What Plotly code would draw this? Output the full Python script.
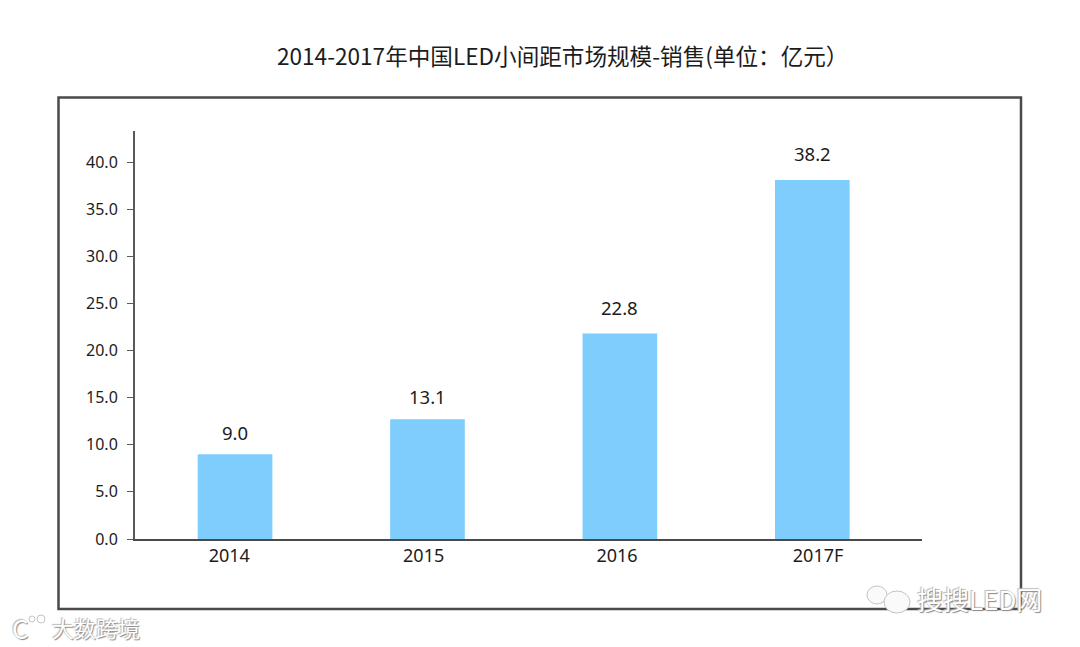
import plotly.graph_objects as go

categories = ["2014", "2015", "2016", "2017F"]
bar_positions = [0, 1, 2, 3]
category_label_offsets = [-0.03, -0.02, -0.015, 0.03]
bar_heights = [9.0, 12.7, 21.8, 38.1]
bar_labels = ["9.0", "13.1", "22.8", "38.2"]
bar_label_shifts = [7, 8, 12, 12]
y_ticks = [0, 5, 10, 15, 20, 25, 30, 35, 40]
y_tick_labels = ["0.0", "5.0", "10.0", "15.0", "20.0", "25.0", "30.0", "35.0", "40.0"]
title_text = "2014-2017年中国LED小间距市场规模-销售(单位：亿元）"

W, H = 1080, 647
L, R, T, B = 135, 922, 131, 539
FONT = "Noto Sans, Noto Sans CJK SC, sans-serif"
TXT = "#1c1c1c"

def px(x):
    return (x - L) / (R - L)

def py(y):
    return (B - y) / (B - T)

fig = go.Figure()
fig.add_bar(
    x=bar_positions, y=bar_heights, width=0.388,
    marker=dict(color="#7fcdfd", line_width=0), hoverinfo="skip",
)

shapes = [dict(type="rect", xref="paper", yref="paper", layer="below",
               x0=px(58.5), x1=px(1021), y0=py(609), y1=py(97.5),
               line=dict(color="#4a4a4a", width=2.5), fillcolor="white")]

def bubble(cx, cy, rx, ry, fill="#fafafa"):
    shapes.append(dict(type="circle", xref="paper", yref="paper", layer="above",
                       x0=px(cx - rx), x1=px(cx + rx), y0=py(cy + ry), y1=py(cy - ry),
                       line=dict(color="#c4c4c4", width=1), fillcolor=fill))

# watermark glyphs
bubble(877, 595, 10, 9)
bubble(897, 602, 13, 11)
bubble(32, 619, 3, 3, "white")
bubble(41, 619, 4, 4, "white")

WM = dict(color="#ffffff", size=26, family="Noto Sans CJK SC, sans-serif",
          shadow="1px 1px 1px #888, -1px -1px 1px #bbb")
annotations = [
    dict(text=title_text, xref="paper", yref="paper", x=px(562), y=py(55), showarrow=False,
         xanchor="center", yanchor="middle",
         font=dict(family="Noto Sans CJK SC, sans-serif", size=22.6, color=TXT)),
    dict(text="搜搜LED网", xref="paper", yref="paper", x=px(979), y=py(598), showarrow=False,
         xanchor="center", yanchor="middle", font=WM),
    dict(text="大数跨境", xref="paper", yref="paper", x=px(96), y=py(627), showarrow=False,
         xanchor="center", yanchor="middle", font=dict(WM, size=22)),
    dict(text="C", xref="paper", yref="paper", x=px(20), y=py(627), showarrow=False,
         xanchor="center", yanchor="middle", font=dict(WM, size=26)),
]
for xpos, height, label, shift in zip(bar_positions, bar_heights, bar_labels, bar_label_shifts):
    annotations.append(dict(
        text=label, x=xpos, y=height, xref="x", yref="y", showarrow=False,
        xanchor="center", yanchor="bottom", yshift=shift,
        font=dict(family=FONT, size=18.5, color=TXT),
    ))

fig.update_layout(
    width=W, height=H, autosize=False,
    margin=dict(l=L, r=W - R, t=T, b=H - B, pad=0),
    paper_bgcolor="white", plot_bgcolor="rgba(0,0,0,0)",
    showlegend=False, shapes=shapes, annotations=annotations,
    font=dict(family=FONT, color=TXT),
)
fig.update_xaxes(
    range=[-0.52, 3.57], tickmode="array",
    tickvals=[p + o for p, o in zip(bar_positions, category_label_offsets)], ticktext=categories,
    showgrid=False, zeroline=False, showline=True, linecolor="#4a4a4a", linewidth=1.5,
    ticks="", tickfont=dict(family=FONT, size=18, color=TXT),
)
fig.update_yaxes(
    range=[0, 43.3], tickmode="array", tickvals=y_ticks, ticktext=y_tick_labels,
    showgrid=False, zeroline=False, showline=True, linecolor="#595959", linewidth=2,
    ticks="outside", ticklen=6, tickwidth=1, tickcolor="#595959", ticklabelstandoff=6,
    tickfont=dict(family=FONT, size=16, color=TXT),
)

fig.write_html("out.html", post_script="document.body.style.margin='0';",
               config={"displayModeBar": False})
